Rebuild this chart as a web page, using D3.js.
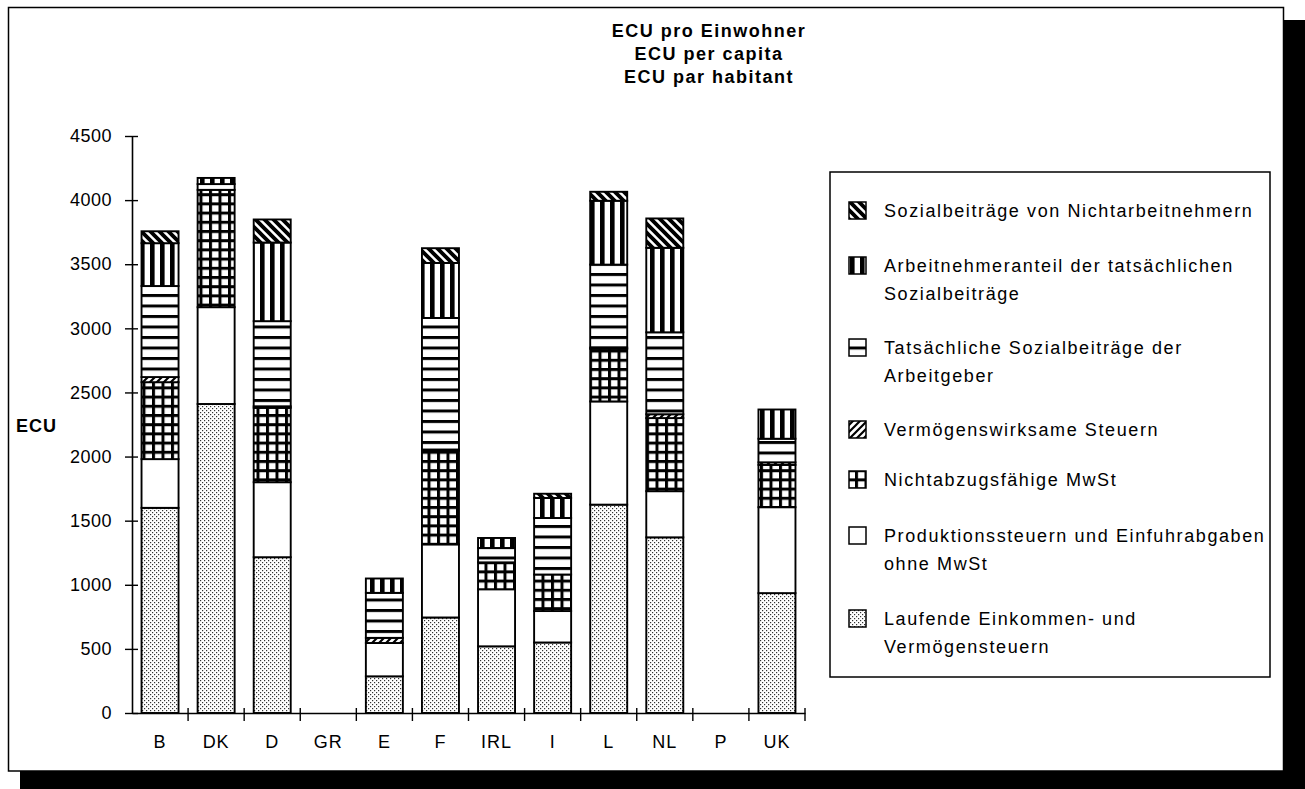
<!DOCTYPE html>
<html><head><meta charset="utf-8">
<script src="https://cdn.jsdelivr.net/npm/d3@7/dist/d3.min.js"></script>
<style>
html,body{margin:0;padding:0;background:#fff;}
svg{display:block;font-family:"Liberation Sans",Arial,Helvetica,sans-serif;}
</style></head>
<body><svg id="chart" width="1305" height="789"></svg>
<script>
// ---- data ----
const titleLines = ["ECU pro Einwohner", "ECU per capita", "ECU par habitant"];
const yLabel = "ECU";
const categories = ["B","DK","D","GR","E","F","IRL","I","L","NL","P","UK"];
const yTicks = [0,500,1000,1500,2000,2500,3000,3500,4000,4500];
// series, bottom to top
const seriesNames = [
  "Laufende Einkommen- und Vermögensteuern",
  "Produktionssteuern und Einfuhrabgaben ohne MwSt",
  "Nichtabzugsfähige MwSt",
  "Vermögenswirksame Steuern",
  "Tatsächliche Sozialbeiträge der Arbeitgeber",
  "Arbeitnehmeranteil der tatsächlichen Sozialbeiträge",
  "Sozialbeiträge von Nichtarbeitnehmern"
];
const laufende        = [1600, 2410, 1215, 0, 286,  745, 520, 550, 1625, 1370, 0, 935];
const produktion      = [ 380,  755,  585, 0, 260,  570, 445, 245,  805,  360, 0, 670];
const mwst            = [ 600,  915,  580, 0,   0,  730, 210, 285,  410,  570, 0, 330];
const vermoegensw     = [  40,    0,   12, 0,  40,   10,   0,   0,   10,   30, 0,  20];
const arbeitgeber     = [ 710,   45,  664, 0, 351, 1026, 112, 441,  647,  639, 0, 184];
const arbeitnehmer    = [ 334,   48,  613, 0, 112,  429,  78, 156,  498,  659, 0, 228];
const nichtarbeitn    = [  93,    0,  180, 0,   0,  115,   0,  33,   70,  229, 0,   0];
const seriesValues = [laufende, produktion, mwst, vermoegensw, arbeitgeber, arbeitnehmer, nichtarbeitn];
// legend lines, top to bottom
const legendEntries = [
  {s:6, lines:["Sozialbeiträge von Nichtarbeitnehmern"]},
  {s:5, lines:["Arbeitnehmeranteil der tatsächlichen","Sozialbeiträge"]},
  {s:4, lines:["Tatsächliche Sozialbeiträge der","Arbeitgeber"]},
  {s:3, lines:["Vermögenswirksame Steuern"]},
  {s:2, lines:["Nichtabzugsfähige MwSt"]},
  {s:1, lines:["Produktionssteuern und Einfuhrabgaben","ohne MwSt"]},
  {s:0, lines:["Laufende Einkommen- und","Vermögensteuern"]}
];

// ---- drawing ----
const svg = d3.select("#chart");
const defs = svg.append("defs");

function pat(id, w, h){ return defs.append("pattern").attr("id",id).attr("patternUnits","userSpaceOnUse").attr("width",w).attr("height",h); }
// stipple
let p = pat("p0",4,4);
p.append("rect").attr("width",4).attr("height",4).attr("fill","#fff");
p.append("rect").attr("x",0).attr("y",0).attr("width",1.2).attr("height",1.2).attr("fill","#333");
p.append("rect").attr("x",2).attr("y",2).attr("width",1.2).attr("height",1.2).attr("fill","#333");
// white
p = pat("p1",4,4);
p.append("rect").attr("width",4).attr("height",4).attr("fill","#fff");
// grid
p = pat("p2",9.5,9.2);
p.append("rect").attr("width",9.5).attr("height",9.2).attr("fill","#000");
p.append("rect").attr("x",3).attr("y",3).attr("width",6.5).attr("height",6.2).attr("fill","#fff");
// forward diagonal thin
p = pat("p3",7,7);
p.append("rect").attr("width",7).attr("height",7).attr("fill","#fff");
p.append("path").attr("d","M-1,8 L8,-1 M-1,1 L1,-1 M6,8 L8,6").attr("stroke","#000").attr("stroke-width",2.2);
// horizontal stripes
p = pat("p4",10,10.5);
p.append("rect").attr("width",10).attr("height",10.5).attr("fill","#fff");
p.append("rect").attr("x",0).attr("y",0).attr("width",10).attr("height",3).attr("fill","#000");
// vertical stripes
p = pat("p5",10,10);
p.append("rect").attr("width",10).attr("height",10).attr("fill","#fff");
p.append("rect").attr("x",0).attr("y",0).attr("width",4.6).attr("height",10).attr("fill","#000");
// back diagonal thick
p = pat("p6",9,9);
p.append("rect").attr("width",9).attr("height",9).attr("fill","#fff");
p.append("path").attr("d","M-2,-2 L11,11 M-2,7 L2,11 M7,-2 L11,2").attr("stroke","#000").attr("stroke-width",3.8);

// frame + shadow
svg.append("rect").attr("x",20).attr("y",20).attr("width",1285).attr("height",769).attr("fill","#000");
svg.append("rect").attr("x",8.5).attr("y",7.5).attr("width",1275).attr("height",763.5)
  .attr("fill","#fff").attr("stroke","#000").attr("stroke-width",1.5);

// title
svg.append("g").selectAll("text").data(titleLines).join("text")
  .attr("x",709).attr("y",(d,i)=>37+i*23)
  .attr("text-anchor","middle").attr("font-weight","bold").attr("font-size",18)
  .attr("letter-spacing",1.5).text(d=>d);

// scales
const x = d3.scaleBand().domain(categories).range([132,805]).paddingInner(0.34).paddingOuter(0.17);
const y = d3.scaleLinear().domain([0,4500]).range([713,136]);

// stacks
const table = categories.map((c,i)=>{ const o={cat:c}; seriesValues.forEach((arr,k)=>o["s"+k]=arr[i]); return o; });
const stack = d3.stack().keys(seriesValues.map((_,k)=>"s"+k))(table);

const gBars = svg.append("g");
stack.forEach((layer,k)=>{
  gBars.append("g").selectAll("rect").data(layer.filter(d=>d[1]-d[0]>0)).join("rect")
    .attr("x",d=>x(d.data.cat)).attr("width",x.bandwidth())
    .attr("y",d=>y(d[1])).attr("height",d=>y(d[0])-y(d[1]))
    .attr("fill","url(#p"+k+")").attr("stroke","#000").attr("stroke-width",1.9);
});

// y axis
const yAxis = d3.axisLeft(y).tickValues(yTicks).tickSize(0).tickPadding(20).tickFormat(d3.format("d"));
const gy = svg.append("g").attr("transform","translate(132,0)").call(yAxis);
gy.select(".domain").attr("stroke","#000").attr("stroke-width",1.6);
gy.selectAll(".tick line").remove();
gy.selectAll(".tick").append("line").attr("x1",-7).attr("x2",6).attr("stroke","#000").attr("stroke-width",1.4);
gy.selectAll(".tick text").attr("font-size",18).attr("fill","#000").attr("letter-spacing",0.5)
  .attr("font-family","Liberation Sans, Arial, sans-serif");

// x axis
const gx = svg.append("g").attr("transform","translate(0,713)")
  .call(d3.axisBottom(x).tickSize(0).tickPadding(22));
gx.select(".domain").attr("stroke","#000").attr("stroke-width",1.6);
gx.selectAll(".tick text").attr("font-size",18).attr("fill","#000").attr("letter-spacing",1)
  .attr("font-family","Liberation Sans, Arial, sans-serif");
const bounds = d3.range(categories.length+1).map(i=>132+i*(673/categories.length));
gx.append("g").selectAll("line").data(bounds.slice(1)).join("line")
  .attr("x1",d=>d).attr("x2",d=>d).attr("y1",-5).attr("y2",8).attr("stroke","#000").attr("stroke-width",1.4);

// y label
svg.append("text").attr("x",16).attr("y",432).attr("font-weight","bold").attr("font-size",18)
  .attr("letter-spacing",1).text(yLabel);

// legend
const lg = svg.append("g");
lg.append("rect").attr("x",830).attr("y",172).attr("width",440).attr("height",505)
  .attr("fill","#fff").attr("stroke","#000").attr("stroke-width",1.5);
const entryY = [211,266,348,430,480,536,619];
legendEntries.forEach((e,i)=>{
  const yy = entryY[i];
  lg.append("rect").attr("x",849).attr("y",yy-9).attr("width",17).attr("height",17)
    .attr("fill","url(#p"+e.s+")").attr("stroke","#000").attr("stroke-width",1.5);
  e.lines.forEach((t,j)=>{
    lg.append("text").attr("x",884).attr("y",yy+6+j*28).attr("font-size",18)
      .attr("letter-spacing",1.6).text(t);
  });
});
</script></body></html>
